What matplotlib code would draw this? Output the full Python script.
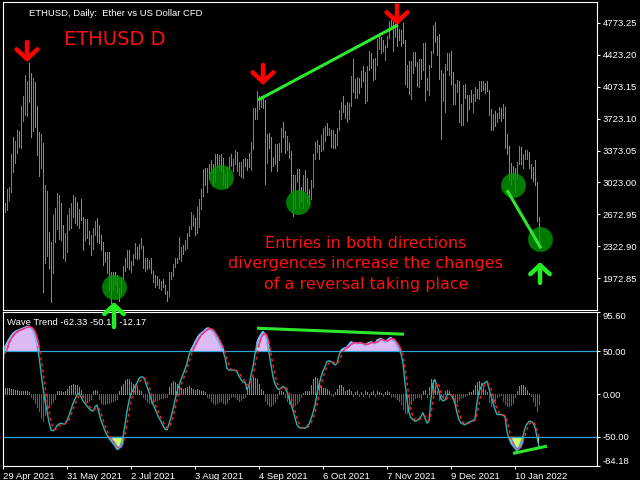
import numpy as np
import pandas as pd
import matplotlib
matplotlib.use("Agg")
import matplotlib.pyplot as plt
from matplotlib.patches import Rectangle

# daily ETHUSD bars, 29 Apr 2021 .. 22 Jan 2022
first_open = 2740
high = [2800, 2800, 2950, 2975, 3335, 3520, 3475, 3600, 3590, 3860,
        3970, 4200, 4135, 4330, 4220, 4165, 4120, 3860, 3575, 3555,
        3455, 2995, 2930, 2480, 2370, 2665, 2740, 2905, 2885, 2795,
        2555, 2470, 2665, 2740, 2795, 2885, 2865, 2810, 2730, 2840,
        2645, 2620, 2620, 2490, 2445, 2525, 2600, 2635, 2555, 2445,
        2370, 2260, 2260, 2260, 2040, 2040, 2040, 2010, 1870, 1990,
        2110, 2190, 2280, 2280, 2160, 2240, 2360, 2320, 2350, 2410,
        2330, 2190, 2200, 2170, 2190, 2050, 2010, 2000, 1960, 1940,
        1970, 1900, 1830, 2040, 2040, 2130, 2200, 2200, 2430, 2320,
        2340, 2390, 2470, 2550, 2700, 2670, 2630, 2750, 2840, 2950,
        3170, 3180, 3180, 3230, 3270, 3230, 3330, 3330, 3320, 3330,
        3290, 3120, 3190, 3300, 3340, 3280, 3380, 3360, 3250, 3250,
        3280, 3290, 3280, 3350, 3470, 3840, 3840, 4030, 3970, 3970,
        3980, 3930, 3550, 3560, 3520, 3300, 3440, 3440, 3450, 3620,
        3680, 3590, 3530, 3450, 3370, 3100, 3110, 3170, 3170, 2970,
        3110, 3160, 3070, 2950, 3050, 3340, 3470, 3490, 3430, 3540,
        3620, 3640, 3670, 3620, 3600, 3600, 3550, 3620, 3820, 3900,
        3970, 3870, 3900, 3890, 4190, 4380, 4160, 4180, 4170, 4240,
        4300, 4230, 4300, 4460, 4440, 4380, 4390, 4600, 4660, 4620,
        4580, 4530, 4630, 4790, 4800, 4810, 4760, 4790, 4700, 4690,
        4770, 4580, 4310, 4350, 4350, 4450, 4450, 4340, 4380, 4380,
        4550, 4550, 4170, 4310, 4460, 4750, 4780, 4630, 4650, 4250,
        4220, 4320, 4440, 4440, 4460, 4230, 4100, 4150, 4130, 3880,
        4090, 4100, 3980, 3980, 4040, 3990, 4070, 4050, 4140, 4140,
        4130, 4110, 4130, 4040, 3830, 3770, 3810, 3780, 3850, 3840,
        3880, 3850, 3550, 3420, 3240, 3200, 3180, 3250, 3420, 3410,
        3340, 3380, 3380, 3360, 3220, 3190, 3270, 3030, 2640]
low = [2660, 2700, 2720, 2830, 2920, 3135, 3235, 3345, 3410, 3400,
       3700, 3760, 3750, 3905, 3520, 3590, 3630, 3325, 3095, 3180,
       1820, 2140, 2215, 2085, 1710, 2030, 2370, 2510, 2400, 2390,
       2195, 2160, 2260, 2500, 2525, 2645, 2580, 2555, 2525, 2610,
       2285, 2390, 2410, 2345, 2225, 2295, 2445, 2370, 2360, 2285,
       2120, 2150, 2030, 1845, 1700, 1850, 1910, 1810, 1720, 1800,
       1960, 2050, 2100, 2080, 2040, 2120, 2200, 2180, 2190, 2300,
       2090, 2050, 2080, 2090, 2030, 1930, 1880, 1900, 1870, 1850,
       1880, 1800, 1720, 1780, 1960, 2000, 2100, 2140, 2180, 2160,
       2240, 2280, 2310, 2440, 2510, 2550, 2450, 2470, 2530, 2730,
       2880, 2990, 2920, 3060, 3130, 2980, 3030, 3200, 3160, 3150,
       3000, 2970, 2960, 3170, 3200, 3150, 3230, 3150, 3100, 3080,
       3070, 3200, 3160, 3190, 3160, 3390, 3720, 3720, 3830, 3850,
       3840, 3010, 3240, 3400, 3150, 3200, 3230, 3150, 3270, 3360,
       3520, 3350, 3380, 3290, 2920, 2660, 2740, 3030, 2740, 2820,
       2740, 2930, 2800, 2790, 2840, 2970, 3280, 3360, 3280, 3370,
       3380, 3480, 3540, 3540, 3410, 3400, 3400, 3430, 3600, 3720,
       3800, 3730, 3690, 3720, 3860, 4010, 3950, 3950, 4000, 4070,
       4130, 3890, 3920, 4260, 4280, 4150, 4160, 4310, 4490, 4440,
       4460, 4370, 4510, 4610, 4700, 4460, 4620, 4520, 4580, 4520,
       4550, 4100, 4070, 3990, 3940, 4220, 4300, 4080, 4070, 4160,
       4250, 3930, 4040, 3980, 4290, 4440, 4560, 4420, 4160, 3500,
       3910, 3790, 4250, 4200, 4100, 3880, 3880, 4010, 3690, 3650,
       3650, 3950, 3700, 3830, 3900, 3800, 3920, 3950, 3940, 4030,
       4040, 4000, 4030, 3760, 3600, 3600, 3640, 3680, 3730, 3700,
       3730, 3400, 3330, 3060, 3000, 3060, 2920, 3060, 3230, 3230,
       3180, 3280, 3280, 3180, 3070, 3040, 2990, 2600, 2300]
close = [2750, 2770, 2940, 2950, 3320, 3240, 3470, 3480, 3460, 3850,
         3920, 3950, 4100, 3920, 3720, 4080, 3660, 3580, 3290, 3380,
         2450, 2780, 2420, 2300, 2110, 2640, 2710, 2890, 2740, 2420,
         2280, 2390, 2630, 2700, 2760, 2860, 2690, 2630, 2720, 2620,
         2510, 2610, 2470, 2360, 2400, 2500, 2590, 2420, 2380, 2300,
         2200, 2250, 2255, 1890, 1900, 1990, 1985, 1830, 1820, 1980,
         2090, 2170, 2270, 2110, 2150, 2230, 2320, 2200, 2320, 2325,
         2120, 2150, 2110, 2140, 2040, 1940, 1990, 1920, 1880, 1900,
         1895, 1820, 1790, 1990, 2030, 2120, 2190, 2185, 2230, 2300,
         2295, 2380, 2460, 2540, 2560, 2610, 2500, 2720, 2830, 2890,
         3160, 3010, 3160, 3140, 3160, 3050, 3320, 3270, 3310, 3170,
         3010, 3030, 3180, 3290, 3230, 3240, 3320, 3170, 3230, 3110,
         3270, 3240, 3230, 3220, 3430, 3830, 3790, 3940, 3890, 3950,
         3920, 3430, 3500, 3430, 3210, 3270, 3410, 3290, 3430, 3610,
         3580, 3400, 3430, 3330, 2960, 2760, 3080, 3160, 2930, 2920,
         3060, 2935, 2810, 2850, 3000, 3310, 3390, 3420, 3380, 3520,
         3580, 3590, 3560, 3580, 3420, 3540, 3490, 3610, 3790, 3870,
         3830, 3850, 3750, 3880, 4160, 4050, 3970, 4170, 4080, 4220,
         4140, 3930, 4290, 4420, 4320, 4290, 4320, 4590, 4610, 4530,
         4480, 4520, 4620, 4780, 4740, 4640, 4730, 4670, 4650, 4630,
         4570, 4220, 4290, 3995, 4310, 4430, 4320, 4090, 4340, 4270,
         4530, 4050, 4100, 4300, 4440, 4630, 4590, 4520, 4240, 4040,
         4110, 4300, 4310, 4435, 4110, 3900, 4080, 4130, 3780, 3860,
         4020, 3960, 3890, 3960, 3920, 3940, 4020, 3980, 4110, 4050,
         4100, 4070, 4040, 3800, 3630, 3710, 3680, 3770, 3830, 3760,
         3790, 3540, 3420, 3200, 3100, 3160, 3080, 3240, 3370, 3250,
         3310, 3330, 3350, 3210, 3160, 3100, 3000, 2620, 2410]

# Wave Trend main line
wt1 = [40, 55, 60, 64, 68, 71, 73, 74, 75, 76,
       77, 78, 79, 79, 77, 74, 68, 57, 44, 26,
       7, -8, -20, -33, -42, -43, -41, -37, -35, -34,
       -35, -35, -31, -25, -18, -11, -6, -1, 1, -3,
       -8, -11, -14, -17, -19, -20, -15, -13, -22, -31,
       -37, -43, -48, -52, -55, -58, -61, -65, -64, -58,
       -50, -36, -20, -8, 1, 5, 9, 13, 18, 20,
       20, 16, 9, 2, -6, -12, -17, -23, -28, -32,
       -37, -41, -42, -35, -27, -18, -7, 3, 10, 17,
       23, 29, 36, 46, 52, 56, 61, 65, 69, 71,
       73, 75, 77, 77, 75, 73, 69, 64, 60, 55,
       50, 43, 30, 28, 28, 28, 28, 26, 21, 17,
       14, 14, 5, 10, 22, 32, 47, 60, 66, 70,
       73, 70, 61, 48, 34, 20, 12, 7, 5, 7,
       9, 7, 3, -5, -12, -19, -28, -36, -39, -40,
       -40, -40, -38, -35, -29, -22, -13, 0, 11, 20,
       27, 32, 38, 39, 38, 36, 34, 36, 45, 51,
       53, 54, 55, 58, 61, 60, 60, 59, 60, 60,
       58, 57, 59, 60, 61, 60, 59, 63, 64, 65,
       62, 61, 63, 65, 66, 63, 61, 56, 52, 47,
       36, 13, -7, -22, -28, -30, -32, -31, -29, -26,
       -22, -28, -34, -32, -5, 13, 17, 9, 3, -6,
       -8, -7, -1, 0, -1, -5, -11, -22, -30, -34,
       -35, -36, -34, -33, -32, -31, -29, -10, 3, 8,
       12, 13, 15, 6, -2, -10, -18, -24, -24, -24,
       -25, -26, -44, -52, -58, -61, -64, -67, -62, -56,
       -49, -40, -35, -32, -32, -34, -39, -50, -62]

# Wave Trend histogram bars
wt_hist = [6, 7, 7, 7, 6, 6, 5, 5, 4, 4,
           4, 3, 3, 2, -3, -6, -10, -15, -20, -28,
           -32, -24, -18, -15, -12, -9, -6, 3, 4, 4,
           2, 3, 6, 9, 11, 12, 11, 10, 8, 5,
           -4, -8, -9, -8, -6, 3, 5, 4, -6, -10,
           -12, -12, -11, -10, -9, -8, -7, -6, 4, 9,
           12, 16, 18, 17, 14, 12, 10, 8, 5, 3,
           -3, -6, -9, -10, -10, -9, -8, -7, -6, -5,
           -5, -4, -3, 8, 13, 15, 14, 12, 9, 7,
           6, 7, 8, 9, 7, 6, 5, 6, 5, 4,
           3, 2, -3, -5, -8, -10, -12, -11, -9, -8,
           -10, -12, -11, -6, -3, -2, -4, -6, -8, -7,
           -5, -4, 8, 14, 18, 20, 19, 17, 12, 6,
           3, -8, -12, -14, -14, -12, -9, -5, 3, 4,
           2, -3, -8, -12, -14, -15, -13, -11, -8, -4,
           1, 3, 3, 4, 10, 18, 20, 19, 14, 9,
           7, 7, 6, 3, -1, -2, 2, 6, 11, 11,
           8, 4, 5, 6, 3, -2, 2, 3, -2, 2,
           -2, 3, 2, -3, 2, 3, -2, 3, 2, 1,
           -2, 2, 3, 2, -3, -2, -4, -6, -8, -12,
           -18, -22, -22, -18, -12, -7, -5, -4, -3, -6,
           4, 5, -3, 8, 18, 16, 10, 3, -7, -6,
           -4, 3, 5, 4, -2, -6, -9, -9, -7, -5,
           -3, -2, -1, 2, 2, 5, 10, 14, 15, 13,
           8, 5, 2, -9, -14, -13, -10, -4, -2, -1,
           -8, -12, -14, -14, -13, -10, -4, 4, 9, 11,
           10, 8, 5, 1, -2, -8, -14, -20, -12]
wt_label_vals = [-62.33, -50.16, -12.17]

date_labels = ["29 Apr 2021", "31 May 2021", "2 Jul 2021", "3 Aug 2021", "4 Sep 2021",
               "6 Oct 2021", "7 Nov 2021", "9 Dec 2021", "10 Jan 2022"]
price_ticks = [4773.25, 4423.20, 4073.15, 3723.10, 3373.05, 3023.00, 2672.95, 2322.90, 1972.85]
wt_ticks = [95.60, 50.00, 0.00, -50.00, -84.18]

# annotation anchors (bar index, value)
red_arrows = [(12, 4342), (130, 4090), (197, 4748)]
green_arrows = [(55.5, 1713), (268.5, 2151)]
circles_x = [55.5, 109, 147.5, 255, 268.5]
circles_y = [1877, 3083, 2809, 2995, 2401]
price_div = [((127.5, 3926), (197.5, 4748)), ((252, 2938), (269, 2302))]
wt_div = [((127, 77), (200.5, 70)), ((255, -69.4), (272, -61))]

TEAL = "#26a69a"
SALMON = "#ef6058"
FONT = "Liberation Sans"

close = np.array(close, float)
high = np.array(high, float)
low = np.array(low, float)
wt1 = np.array(wt1, float)
hist = np.array(wt_hist, float)
idx = np.arange(len(close))
opens = np.r_[first_open, close[:-1]]
up = close >= opens

# signal line = 3 bar average of the main line
wt2 = pd.Series(wt1).rolling(3, min_periods=1).mean().values

fig = plt.figure(figsize=(6.4, 4.8), dpi=100, facecolor="black")
ax = fig.add_axes([3/640, 1-310.3/480, 594/640, 308/480], facecolor="black")
axw = fig.add_axes([3/640, 1-466/480, 594/640, (466-312.3)/480], facecolor="black")
ax.set_zorder(3)

# ---- price panel
ax.vlines(idx, low, high, colors=np.where(up, TEAL, SALMON), linewidth=0.55,
          antialiased=False)
ax.set_xlim(0, 297)
ax.set_ylim(1622.3, 4996.8)
ax.set_xticks([])
ax.yaxis.tick_right()
ax.set_yticks(price_ticks)
ax.set_yticklabels([f"{v:.2f}" for v in price_ticks])

ax.scatter(circles_x, circles_y, s=320, color="#009a00", alpha=0.8, lw=0, zorder=4)
for (x0, y0), (x1, y1) in price_div:
    ax.plot([x0, x1], [y0, y1], color="#2ee82e", lw=2.2, solid_capstyle="butt", zorder=5)

for x, y in red_arrows:
    ax.annotate("", xy=(x, y), xytext=(0, 14.5), textcoords="offset points",
                arrowprops=dict(arrowstyle="->, head_length=0.7, head_width=0.75",
                                color="#ff0000", lw=3.2, shrinkA=0, shrinkB=0),
                annotation_clip=False, zorder=6)
for (x, y), dy in zip(green_arrows, [-18, -15]):
    ax.annotate("", xy=(x, y), xytext=(0, dy), textcoords="offset points",
                arrowprops=dict(arrowstyle="->, head_length=0.65, head_width=0.7",
                                color="#22ee22", lw=3.2, shrinkA=0, shrinkB=0),
                annotation_clip=False, zorder=6)

ax.text(0.0438, 0.9627, "ETHUSD, Daily:  Ether vs US Dollar CFD", transform=ax.transAxes,
        color="white", fontsize=6.8, family=FONT, va="center", ha="left")
ax.text(0.1027, 0.8776, "ETHUSD D", transform=ax.transAxes, color="#ff1010",
        fontsize=14, va="center", ha="left")
msg = ["Entries in both directions", "divergences increase the changes",
       "of a reversal taking place"]
for k, line in enumerate(msg):
    ypx = 243 + 20.5*k
    ax.text(0.611, 1-(ypx-2.3)/308, line, transform=ax.transAxes, color="#ff1010",
            fontsize=11.5, va="center", ha="center")

# ---- wave trend panel
axw.set_xlim(0, 297)
axw.set_ylim(-84.18, 95.60)
top = np.maximum(wt1, wt2)
bot = np.minimum(wt1, wt2)
axw.fill_between(idx, 50, top, where=top >= 50, interpolate=True, color="#dbb9f3", lw=0)
axw.fill_between(idx, -50, bot, where=bot <= -50, interpolate=True, color="#ccff66", lw=0)
axw.vlines(idx, 0, hist, colors=np.where(hist >= 0, "#2aaaa8", "#ff1a1a"), linewidth=0.55,
           antialiased=False)
axw.axhline(50, color="#2ba6dc", lw=0.9)
axw.axhline(-50, color="#2ba6dc", lw=0.9)
axw.plot(idx, wt1, color="#26b4b4", lw=1.0)
axw.plot(idx, wt2, color="#ff1a1a", lw=1.1, ls=(0, (2, 2)))
axw.plot(idx, np.where(wt1 >= 50, wt1, np.nan), color="#6cc8ff", lw=1.0)
axw.plot(idx, np.where(wt2 >= 50, wt2, np.nan), color="#ff2a80", lw=1.1)
axw.plot(idx, np.where(wt2 <= -50, wt2, np.nan), color="#a060d8", lw=1.1)
for (x0, y0), (x1, y1) in wt_div:
    axw.plot([x0, x1], [y0, y1], color="#2ee82e", lw=2.2, solid_capstyle="butt", zorder=5)

axw.text(0.0067, 0.935, "Wave Trend " + " ".join(f"{v:.2f}" for v in wt_label_vals),
         transform=axw.transAxes, color="white", fontsize=6.8, family=FONT,
         va="center", ha="left")

axw.yaxis.tick_right()
axw.set_yticks(wt_ticks)
axw.set_yticklabels([f"{v:.2f}" for v in wt_ticks])
ylabs = axw.get_yticklabels()
ylabs[0].set_va("top")
ylabs[-1].set_va("bottom")
axw.set_xticks(idx[::32][:len(date_labels)])
axw.set_xticklabels(date_labels)
for lbl in axw.get_xticklabels():
    lbl.set_ha("left")

for a in (ax, axw):
    for s in a.spines.values():
        s.set_color("white")
        s.set_linewidth(0.8)
    a.tick_params(colors="white", labelsize=6.8, length=2.5, width=0.8, pad=1.5)
    for lbl in a.get_yticklabels() + a.get_xticklabels():
        lbl.set_family(FONT)

# small window icon next to the title
ov = fig.add_axes([0, 0, 1, 1], facecolor="none")
ov.set_xlim(0, 640)
ov.set_ylim(480, 0)
ov.axis("off")
ov.add_patch(Rectangle((8, 8), 15, 11, facecolor="white", edgecolor="none"))
ov.add_patch(Rectangle((8.5, 8.5), 6.5, 10, facecolor="none", edgecolor="#e02020", lw=0.8))
ov.add_patch(Rectangle((15.5, 8.5), 7, 10, facecolor="none", edgecolor="#2060d0", lw=0.8))
for yy in (11.5, 14, 16.5):
    ov.plot([10, 14], [yy, yy], color="#e02020", lw=0.9)
    ov.plot([17, 21], [yy, yy], color="#2060d0", lw=0.9)

fig.savefig("out.png", dpi=100, facecolor="black")
